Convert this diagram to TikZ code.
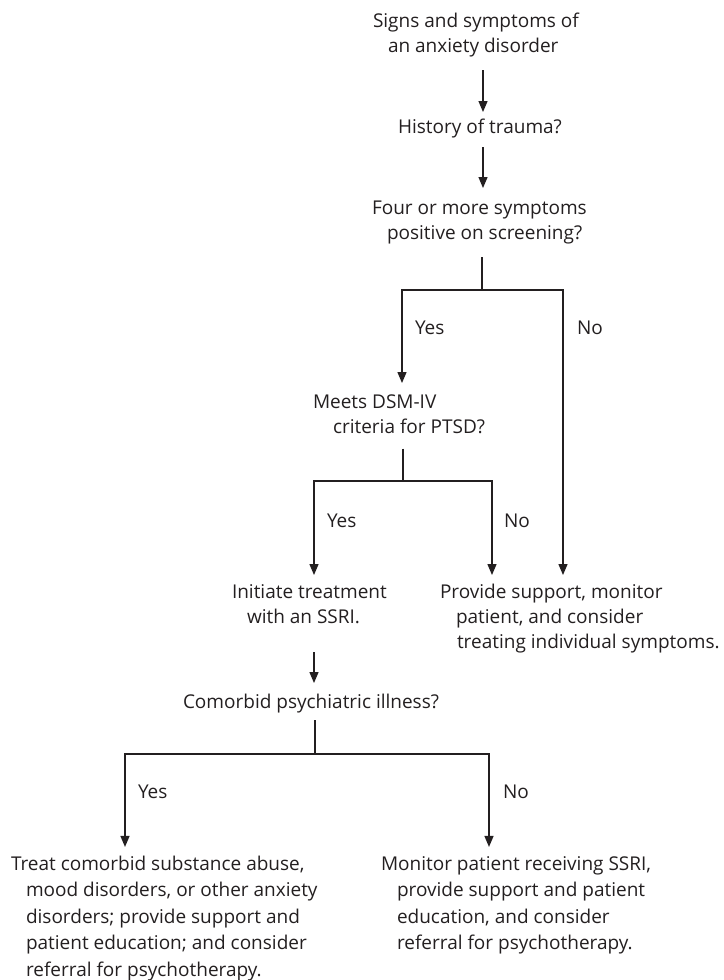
\documentclass[tikz,border=0pt]{standalone}
\usepackage{fontspec}
\setmainfont{Open Sans}
\usetikzlibrary{arrows.meta}
\definecolor{ink}{RGB}{35,31,32}
\newcommand{\upfont}{\fontsize{19}{25}\selectfont}
\newcommand{\lowfont}{\fontsize{19}{26.5}\selectfont}
\newcommand{\ind}[1]{\hspace*{#1pt}}
\tikzset{
  txt/.style={anchor=base west, inner sep=0pt, outer sep=0pt, text=ink, font=\upfont},
  lowtxt/.style={txt, font=\lowfont},
  ln/.style={draw=ink, line width=1.3pt},
  arr/.style={ln, -{Triangle[width=9pt,length=11pt]}}
}
\begin{document}
\begin{tikzpicture}[x=1pt,y=-1pt]
\useasboundingbox (0,0) rectangle (723,980);

% text nodes
\node[txt] (sig) at (373,27.5) {\vtop{\hbox{\strut Signs and symptoms of}\hbox{\ind{15}\strut an anxiety disorder}}};
\node[txt] (hist) at (398,133) {\vtop{\hbox{\strut History of trauma?}}};
\node[txt] (four) at (372,214.5) {\vtop{\hbox{\strut Four or more symptoms}\hbox{\ind{15}\strut positive on screening?}}};
\node[txt] (dsm) at (313,408) {\vtop{\hbox{\strut Meets DSM-IV}\hbox{\ind{20}\strut criteria for PTSD?}}};
\node[txt] (init) at (232,598) {\vtop{\hbox{\strut Initiate treatment}\hbox{\ind{15}\strut with an SSRI.}}};
\node[txt] (prov) at (440,598) {\vtop{\hbox{\strut Provide support, monitor}\hbox{\ind{16}\strut patient, and consider}\hbox{\ind{17}\strut treating individual symptoms.}}};
\node[txt] (com) at (183,708) {\vtop{\hbox{\strut Comorbid psychiatric illness?}}};
\node[lowtxt] (treat) at (11,870) {\vtop{\hbox{\strut Treat comorbid substance abuse,}\hbox{\ind{15}\strut mood disorders, or other anxiety}\hbox{\ind{15}\strut disorders; provide support and}\hbox{\ind{15}\strut patient education; and consider}\hbox{\ind{15}\strut referral for psychotherapy.}}};
\node[lowtxt] (mon) at (381,870) {\vtop{\hbox{\strut Monitor patient receiving SSRI,}\hbox{\ind{16}\strut provide support and patient}\hbox{\ind{16}\strut education, and consider}\hbox{\ind{16}\strut referral for psychotherapy.}}};

% branch labels
\node[txt] (yes1) at (415,334) {Yes};
\node[txt] (no1) at (577,334) {No};
\node[txt] (yes2) at (327,527) {Yes};
\node[txt] (no2) at (504,527) {No};
\node[txt] (yes3) at (138,798) {Yes};
\node[txt] (no3) at (503,798) {No};

% junctions
\coordinate (j1) at (482,290);
\coordinate (j2) at (403,481);
\coordinate (j3) at (315,754);

% straight connectors
\draw[arr, shorten <=10pt, shorten >=3.5pt] (sig.south -| 483,0) -- (hist.north -| 483,0);
\draw[arr, shorten <=6.5pt, shorten >=9pt] (hist.south -| 483,0) -- (four.north -| 483,0);

% branch 1
\draw[ln, shorten <=10pt] (four.south -| j1) -- (j1);
\draw[arr, shorten >=7.5pt] (j1) -| (dsm.north -| 402,0);
\draw[arr, shorten >=5.5pt] (j1) -| (prov.north -| 563,0);

% branch 2
\draw[ln, shorten <=8pt] (dsm.south -| j2) -- (j2);
\draw[arr, shorten >=5.5pt] (j2) -| (init.north -| 314,0);
\draw[arr, shorten >=5.5pt] (j2) -| (prov.north -| 492,0);

% init -> comorbid
\draw[arr, shorten <=21.5pt, shorten >=7.5pt] (init.south -| 314,0) -- (com.north -| 314,0);

% branch 3
\draw[ln, shorten <=4.5pt] (com.south -| j3) -- (j3);
\draw[arr, shorten >=4.5pt] (j3) -| (treat.north -| 125,0);
\draw[arr, shorten >=4.5pt] (j3) -| (mon.north -| 489,0);
\end{tikzpicture}
\end{document}
